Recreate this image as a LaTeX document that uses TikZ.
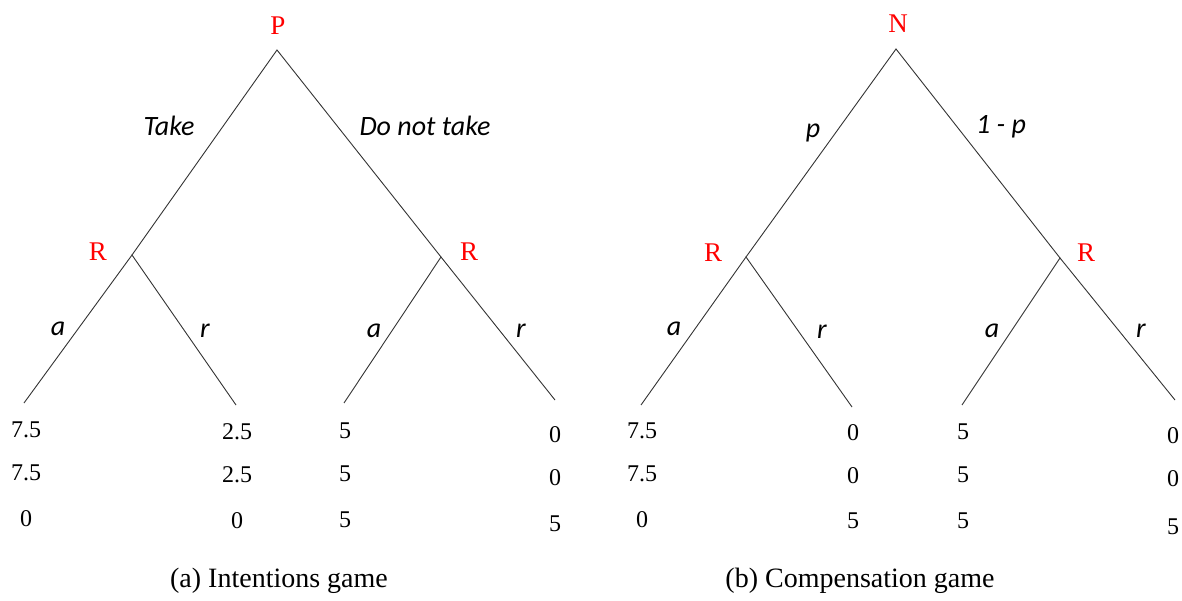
\documentclass[tikz,border=0pt]{standalone}
\usepackage{fontspec}
\setmainfont{Liberation Serif}
\newfontfamily\calib{Carlito}
\begin{document}
\begin{tikzpicture}[x=1pt,y=-1pt,
  branch/.style={draw=black!80,line width=0.9pt},
  player/.style={text=red,font=\fontsize{27}{27}\selectfont,inner sep=0pt},
  move/.style={font=\calib\itshape\fontsize{28}{28}\selectfont,inner sep=0pt},
  payoff/.style={font=\fontsize{24}{24}\selectfont,inner sep=0pt},
  caption/.style={font=\fontsize{28}{28}\selectfont,inner sep=0pt}]
\useasboundingbox (0,0) rectangle (1182,601);
% ---------- left tree ----------
\coordinate (P) at (277,50);
\coordinate (RL) at (132,255);
\coordinate (RR) at (441,257);
\coordinate (L1) at (24,403);
\coordinate (L2) at (236,405);
\coordinate (L3) at (344,403);
\coordinate (L4) at (555,400);
\draw[branch] (RL) -- (P) -- (RR);
\draw[branch] (L1) -- (RL) -- (L2);
\draw[branch] (L3) -- (RR) -- (L4);
\node[player] (Plab) at (278,26) {P};
\node[player] (RLlab) at (98,252) {R};
\node[player] (RRlab) at (469,252) {R};
\node[move] (take) at (169,126) {Take};
\node[move] (dnt) at (425,126) {Do not take};
\node[move] (a1) at (58,329) {a};
\node[move] (r1) at (205,331) {r};
\node[move] (a2) at (374,331) {a};
\node[move] (r2) at (521,331) {r};
\node[payoff] (n11) at (26,430) {7.5};
\node[payoff] (n12) at (26,473) {7.5};
\node[payoff] (n13) at (26,519) {0};
\node[payoff] (n21) at (237,432) {2.5};
\node[payoff] (n22) at (237,475) {2.5};
\node[payoff] (n23) at (237,521) {0};
\node[payoff] (n31) at (345,431) {5};
\node[payoff] (n32) at (345,474) {5};
\node[payoff] (n33) at (345,520) {5};
\node[payoff] (n41) at (555,435) {0};
\node[payoff] (n42) at (555,478) {0};
\node[payoff] (n43) at (555,524) {5};
\node[caption] (capa) at (279,581) {(a) Intentions game};
% ---------- right tree ----------
\coordinate (N) at (896,49);
\coordinate (SL) at (746,257);
\coordinate (SR) at (1060,258);
\coordinate (M1) at (641,405);
\coordinate (M2) at (852,407);
\coordinate (M3) at (962,405);
\coordinate (M4) at (1175,400);
\draw[branch] (SL) -- (N) -- (SR);
\draw[branch] (M1) -- (SL) -- (M2);
\draw[branch] (M3) -- (SR) -- (M4);
\node[player] (Nlab) at (898,24) {N};
\node[player] (SLlab) at (713,253) {R};
\node[player] (SRlab) at (1086,253) {R};
\node[move] (p) at (813,133) {p};
\node[move] (onemp) at (1001,127) {1 - p};
\node[move] (a3) at (674,329) {a};
\node[move] (r3) at (822,332) {r};
\node[move] (a4) at (992,331) {a};
\node[move] (r4) at (1141,331) {r};
\node[payoff] (m11) at (642,431) {7.5};
\node[payoff] (m12) at (642,474) {7.5};
\node[payoff] (m13) at (642,520) {0};
\node[payoff] (m21) at (853,433) {0};
\node[payoff] (m22) at (853,476) {0};
\node[payoff] (m23) at (853,521) {5};
\node[payoff] (m31) at (963,432) {5};
\node[payoff] (m32) at (963,475) {5};
\node[payoff] (m33) at (963,521) {5};
\node[payoff] (m41) at (1173,436) {0};
\node[payoff] (m42) at (1173,479) {0};
\node[payoff] (m43) at (1173,527) {5};
\node[caption] (capb) at (860,581) {(b) Compensation game};
\end{tikzpicture}
\end{document}
